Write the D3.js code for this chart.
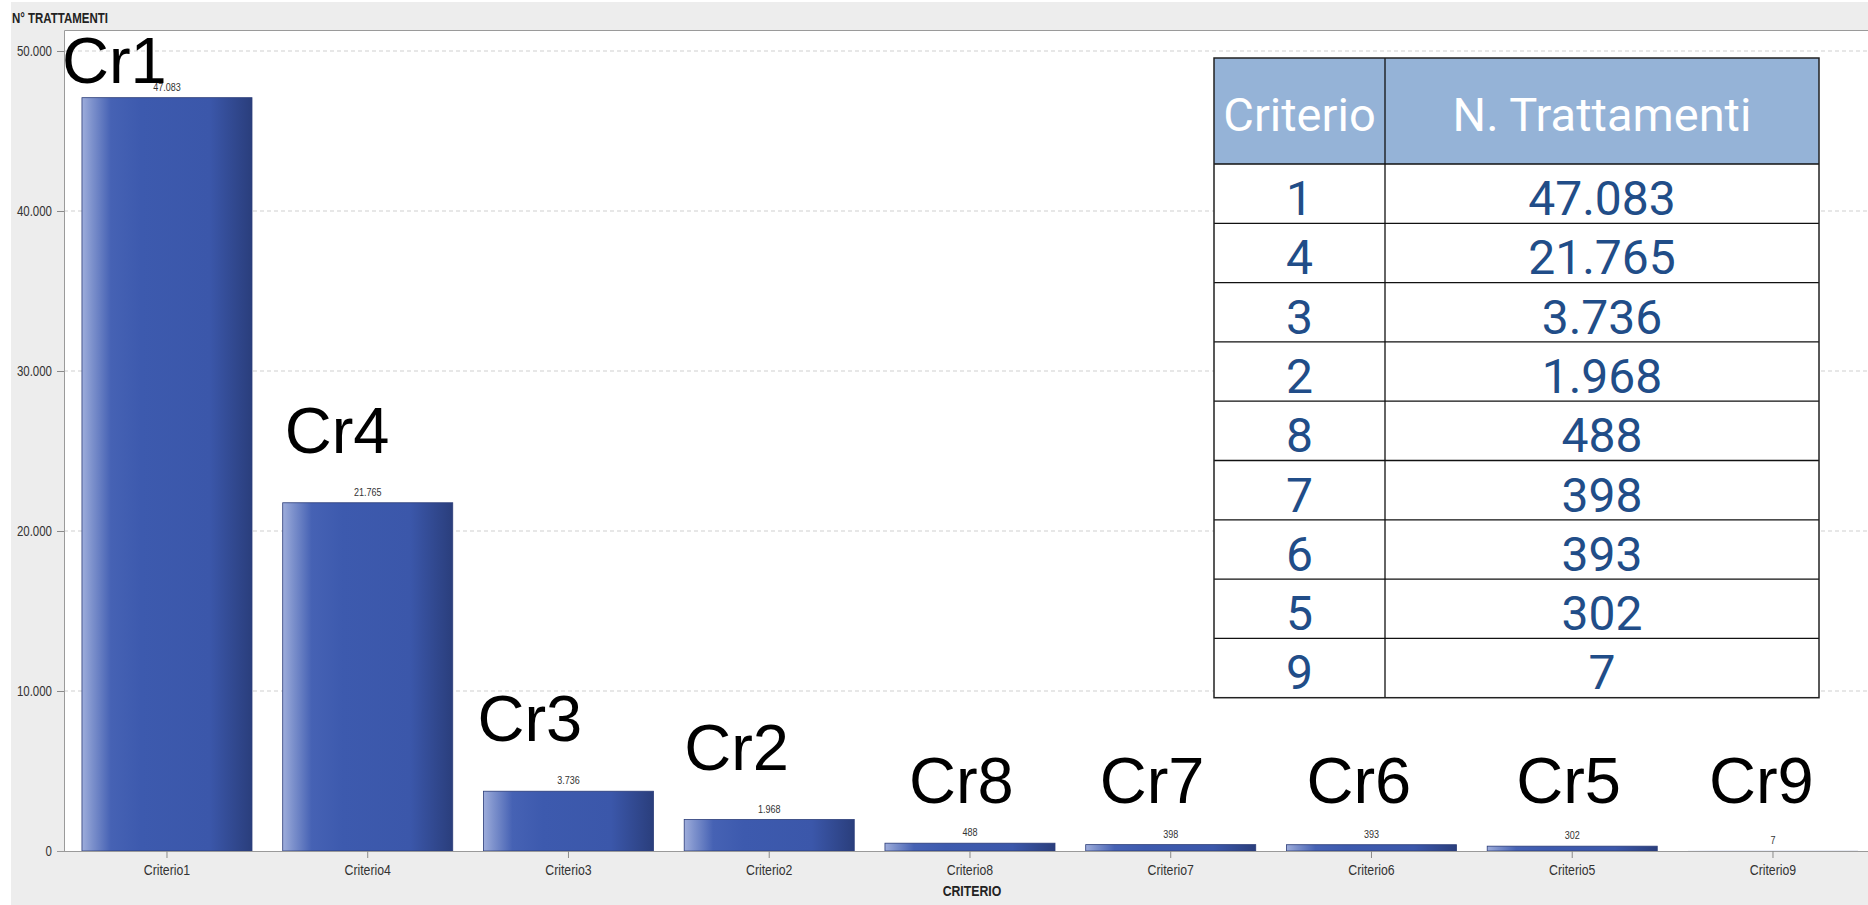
<!DOCTYPE html>
<html>
<head>
<meta charset="utf-8">
<script src="https://cdn.jsdelivr.net/npm/d3@7"></script>
<style>
	body { margin: 0; background: #fff; }
	svg { display: block; }
	text { font-family: "Liberation Sans", Arial, sans-serif; }
</style>
</head>
<body>
<div id="chart"></div>
<script>
// Data
const categories = ["Criterio1", "Criterio4", "Criterio3", "Criterio2", "Criterio8", "Criterio7", "Criterio6", "Criterio5", "Criterio9"];
const values = [47083, 21765, 3736, 1968, 488, 398, 393, 302, 7];
const shortLabels = ["Cr1", "Cr4", "Cr3", "Cr2", "Cr8", "Cr7", "Cr6", "Cr5", "Cr9"];
const criterioNumbers = [1, 4, 3, 2, 8, 7, 6, 5, 9];
const yTicks = [0, 10000, 20000, 30000, 40000, 50000];
const tableHeaders = ["Criterio", "N. Trattamenti"];

// Layout
const width = 1868, height = 905;
const plot = { left: 64, top: 30, right: 1868, bottom: 851 };
// the big "CrN" labels were placed by hand in the original, these are their nudges from the bar centre
const bigLabelShift = [-105, -83, -91, -85, -61, -71, -65, -56, -64];

// Italian number format: 47.083
const it = d3.formatLocale({ decimal: ",", thousands: ".", grouping: [3], currency: ["€", ""] });
const fmt = it.format(",d");

// no narrow font installed, so squeeze the regular one around its anchor
const K = 0.82;
const condense = sel => sel.each(function () {
	const t = d3.select(this);
	const x0 = +t.attr("x") || 0;
	t.attr("transform", `translate(${x0 * (1 - K)},0) scale(${K},1)`);
});

const svg = d3.select("#chart").append("svg")
	.attr("width", width).attr("height", height);

// gradient for the bars
const grad = svg.append("defs").append("linearGradient")
	.attr("id", "barGrad").attr("x1", "0%").attr("x2", "100%").attr("y1", "0%").attr("y2", "0%");
[["0%", "#9eaddb"], ["6%", "#7d91cc"], ["17%", "#4662b4"], ["35%", "#3d5aae"], ["75%", "#3b57aa"], ["100%", "#2a3e7c"]]
	.forEach(([o, c]) => grad.append("stop").attr("offset", o).attr("stop-color", c));

svg.append("defs").append("clipPath").attr("id", "plotClip")
	.append("rect").attr("x", plot.left).attr("y", plot.top)
	.attr("width", plot.right - plot.left).attr("height", plot.bottom - plot.top + 20);

// background
svg.append("rect").attr("x", 11).attr("y", 2).attr("width", width - 11).attr("height", height - 2).attr("fill", "#ededed");
svg.append("rect").attr("x", plot.left).attr("y", plot.top)
	.attr("width", plot.right - plot.left).attr("height", plot.bottom - plot.top).attr("fill", "#fff");

const x = d3.scaleBand().domain(categories).range([66.6, 66.6 + 9 * 200.75]).paddingInner(0.153).paddingOuter(0.0765);
const y = d3.scaleLinear().domain([0, 50000]).range([plot.bottom, plot.bottom - 800]);

// gridlines
svg.append("g").selectAll("line")
	.data(yTicks.filter(d => d > 0))
	.enter().append("line")
		.attr("x1", plot.left).attr("x2", plot.right)
		.attr("y1", d => y(d)).attr("y2", d => y(d))
		.attr("stroke", "#cfcfcf").attr("stroke-dasharray", "4,3");

// plot frame (top and left)
svg.append("path")
	.attr("d", `M${plot.right},${plot.top + 0.5}H${plot.left + 0.5}V${plot.bottom}`)
	.attr("fill", "none").attr("stroke", "#9a9a9a");

// y axis
const yAxis = svg.append("g")
	.attr("transform", `translate(${plot.left}, 0)`)
	.call(d3.axisLeft(y).tickValues(yTicks).tickFormat(fmt).tickSize(7).tickPadding(5));
yAxis.select(".domain").remove();
yAxis.selectAll("line").attr("stroke", "#8a8a8a");
yAxis.selectAll("text").attr("font-size", 14).attr("fill", "#333").attr("font-family", null).call(condense);

// bars
const bars = svg.append("g").attr("clip-path", "url(#plotClip)");
bars.selectAll("rect")
	.data(values)
	.enter().append("rect")
		.attr("x", (d, i) => x(categories[i]))
		.attr("y", d => y(d))
		.attr("width", x.bandwidth())
		.attr("height", d => y(0) - y(d))
		.attr("fill", "url(#barGrad)")
		.attr("stroke", d => y(0) - y(d) < 1 ? "none" : "#2b3c78").attr("stroke-width", 0.8);

// value labels above bars
svg.append("g").selectAll("text")
	.data(values)
	.enter().append("text")
		.attr("x", (d, i) => x(categories[i]) + x.bandwidth() / 2)
		.attr("y", d => y(d) - 7)
		.attr("text-anchor", "middle")
		.attr("font-size", 11).attr("fill", "#333")
		.text(d => fmt(d))
		.call(condense);

// x axis
const xAxis = svg.append("g")
	.attr("transform", `translate(0, ${plot.bottom})`)
	.call(d3.axisBottom(x).tickSize(7).tickPadding(6));
xAxis.select(".domain").attr("d", `M${plot.left - 7},0.5H${plot.right}`).attr("stroke", "#9a9a9a");
xAxis.selectAll("line").attr("stroke", "#8a8a8a");
xAxis.selectAll("text").attr("font-size", 15).attr("fill", "#333").attr("font-family", null).call(condense);

// axis titles
svg.append("text")
	.attr("x", 12).attr("y", 23)
	.attr("font-size", 14).attr("font-weight", "bold").attr("fill", "#222")
	.text("N° TRATTAMENTI")
	.call(condense);
svg.append("text")
	.attr("x", 972).attr("y", 896)
	.attr("text-anchor", "middle")
	.attr("font-size", 15).attr("font-weight", "bold").attr("fill", "#222")
	.text("CRITERIO")
	.call(condense);

// big "CrN" annotations: short bars share one baseline, taller ones sit above their bar
const bigLabelY = d => y(0) - y(d) < 20 ? 803 : Math.max(83, y(d) - 50);
svg.append("g").selectAll("text")
	.data(values)
	.enter().append("text")
		.attr("x", (d, i) => x(categories[i]) + x.bandwidth() / 2 + bigLabelShift[i])
		.attr("y", bigLabelY)
		.attr("font-size", 65).attr("fill", "#000")
		.text((d, i) => shortLabels[i]);

// table overlay
const table = { left: 1214, right: 1819, top: 58, headerBottom: 164, rowH: 59.3, split: 1385 };
const tg = svg.append("g");
const rowsBottom = table.headerBottom + table.rowH * values.length;
tg.append("rect").attr("x", table.left).attr("y", table.top)
	.attr("width", table.right - table.left).attr("height", rowsBottom - table.top).attr("fill", "#fff");
tg.append("rect").attr("x", table.left).attr("y", table.top)
	.attr("width", table.right - table.left).attr("height", table.headerBottom - table.top).attr("fill", "#95b3d7");

const colCenters = [(table.left + table.split) / 2, (table.split + table.right) / 2];
tg.selectAll("text.head")
	.data(tableHeaders)
	.enter().append("text").attr("class", "head")
		.attr("x", (d, i) => colCenters[i]).attr("y", 131)
		.attr("text-anchor", "middle").attr("font-size", 47).attr("fill", "#fff")
		.style("font-family", "Roboto, 'Open Sans', sans-serif")
		.text(d => d);

const rows = tg.selectAll("g.row")
	.data(values)
	.enter().append("g").attr("class", "row")
		.attr("transform", (d, i) => `translate(0, ${table.headerBottom + i * table.rowH})`);
rows.append("text")
	.attr("x", colCenters[0]).attr("y", 51)
	.attr("text-anchor", "middle").attr("font-size", 48).attr("fill", "#214d88")
	.style("font-family", "Roboto, 'Open Sans', sans-serif")
	.text((d, i) => criterioNumbers[i]);
rows.append("text")
	.attr("x", colCenters[1]).attr("y", 51)
	.attr("text-anchor", "middle").attr("font-size", 48).attr("fill", "#214d88")
	.style("font-family", "Roboto, 'Open Sans', sans-serif")
	.text(d => fmt(d));

// table grid lines
const hLines = d3.range(values.length).map(i => table.headerBottom + i * table.rowH);
tg.append("g").selectAll("line")
	.data(hLines)
	.enter().append("line")
		.attr("x1", table.left).attr("x2", table.right)
		.attr("y1", d => d).attr("y2", d => d)
		.attr("stroke", "#111").attr("stroke-width", 1.3);
tg.append("line")
	.attr("x1", table.split).attr("x2", table.split)
	.attr("y1", table.top).attr("y2", rowsBottom)
	.attr("stroke", "#111").attr("stroke-width", 1.3);
tg.append("rect").attr("x", table.left).attr("y", table.top)
	.attr("width", table.right - table.left).attr("height", rowsBottom - table.top)
	.attr("fill", "none").attr("stroke", "#222").attr("stroke-width", 1.5);
</script>
</body>
</html>
